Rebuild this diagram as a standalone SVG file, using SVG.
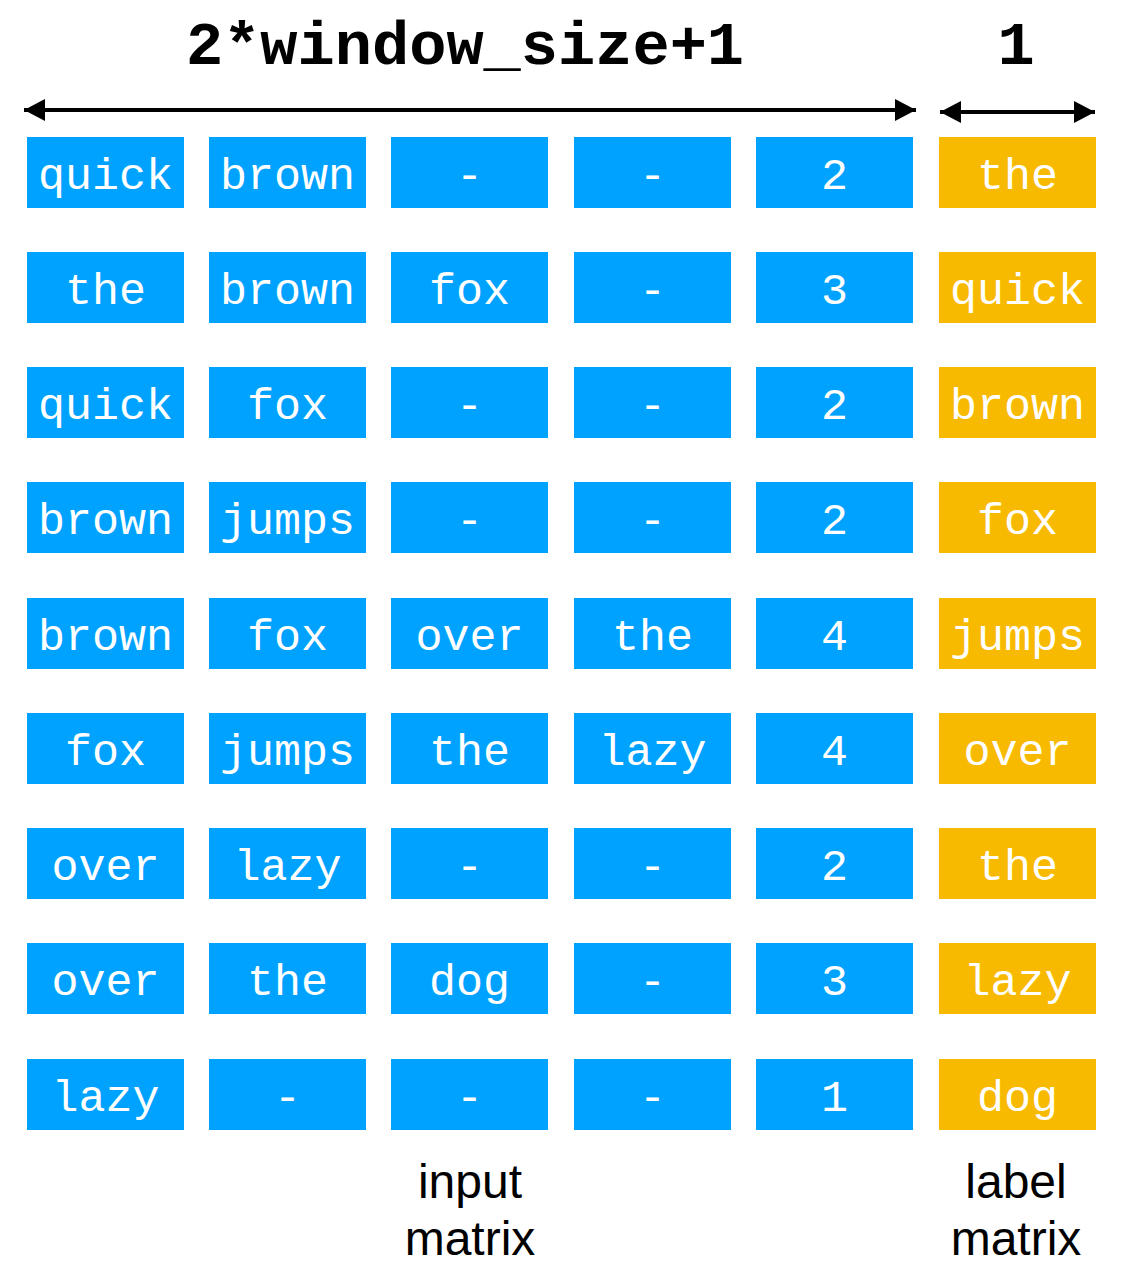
<svg xmlns="http://www.w3.org/2000/svg" width="1134" height="1285" viewBox="0 0 1134 1285">
<style>
.b{fill:#00A2FF}
.o{fill:#F8BA00}
.t{font-family:"Liberation Mono","Courier New",monospace;font-size:45px;fill:#ffffff;text-anchor:middle}
.h{font-family:"Liberation Mono","Courier New",monospace;font-size:62px;font-weight:bold;fill:#000;text-anchor:middle}
.l{font-family:"Liberation Sans",Arial,Helvetica,sans-serif;font-size:48px;fill:#000;text-anchor:middle}
.ar{stroke:#000;stroke-width:4;fill:none}
</style>
<defs>
<marker id="ah" markerWidth="21" markerHeight="22" viewBox="0 0 21 22" refX="21" refY="11" orient="auto-start-reverse" markerUnits="userSpaceOnUse">
<path d="M0,0 L21,11 L0,22 Z" fill="#000"/>
</marker>
</defs>
<g id="titles">
<text class="h" x="465" y="64">2*window_size+1</text>
<text class="h" x="1016" y="64">1</text>
</g>
<g id="connectors">
<line class="ar" x1="24" y1="110" x2="916" y2="110" marker-start="url(#ah)" marker-end="url(#ah)"/>
<line class="ar" x1="940" y1="112" x2="1095" y2="112" marker-start="url(#ah)" marker-end="url(#ah)"/>
</g>
<g id="row1">
<rect class="b" x="27" y="137" width="157" height="71"/><text class="t" x="105.5" y="189">quick</text>
<rect class="b" x="209" y="137" width="157" height="71"/><text class="t" x="287.5" y="189">brown</text>
<rect class="b" x="391" y="137" width="157" height="71"/><text class="t" x="469.5" y="189">-</text>
<rect class="b" x="574" y="137" width="157" height="71"/><text class="t" x="652.5" y="189">-</text>
<rect class="b" x="756" y="137" width="157" height="71"/><text class="t" x="834.5" y="189">2</text>
<rect class="o" x="939" y="137" width="157" height="71"/><text class="t" x="1017.5" y="189">the</text>
</g>
<g id="row2">
<rect class="b" x="27" y="252" width="157" height="71"/><text class="t" x="105.5" y="304">the</text>
<rect class="b" x="209" y="252" width="157" height="71"/><text class="t" x="287.5" y="304">brown</text>
<rect class="b" x="391" y="252" width="157" height="71"/><text class="t" x="469.5" y="304">fox</text>
<rect class="b" x="574" y="252" width="157" height="71"/><text class="t" x="652.5" y="304">-</text>
<rect class="b" x="756" y="252" width="157" height="71"/><text class="t" x="834.5" y="304">3</text>
<rect class="o" x="939" y="252" width="157" height="71"/><text class="t" x="1017.5" y="304">quick</text>
</g>
<g id="row3">
<rect class="b" x="27" y="367" width="157" height="71"/><text class="t" x="105.5" y="419">quick</text>
<rect class="b" x="209" y="367" width="157" height="71"/><text class="t" x="287.5" y="419">fox</text>
<rect class="b" x="391" y="367" width="157" height="71"/><text class="t" x="469.5" y="419">-</text>
<rect class="b" x="574" y="367" width="157" height="71"/><text class="t" x="652.5" y="419">-</text>
<rect class="b" x="756" y="367" width="157" height="71"/><text class="t" x="834.5" y="419">2</text>
<rect class="o" x="939" y="367" width="157" height="71"/><text class="t" x="1017.5" y="419">brown</text>
</g>
<g id="row4">
<rect class="b" x="27" y="482" width="157" height="71"/><text class="t" x="105.5" y="534">brown</text>
<rect class="b" x="209" y="482" width="157" height="71"/><text class="t" x="287.5" y="534">jumps</text>
<rect class="b" x="391" y="482" width="157" height="71"/><text class="t" x="469.5" y="534">-</text>
<rect class="b" x="574" y="482" width="157" height="71"/><text class="t" x="652.5" y="534">-</text>
<rect class="b" x="756" y="482" width="157" height="71"/><text class="t" x="834.5" y="534">2</text>
<rect class="o" x="939" y="482" width="157" height="71"/><text class="t" x="1017.5" y="534">fox</text>
</g>
<g id="row5">
<rect class="b" x="27" y="598" width="157" height="71"/><text class="t" x="105.5" y="650">brown</text>
<rect class="b" x="209" y="598" width="157" height="71"/><text class="t" x="287.5" y="650">fox</text>
<rect class="b" x="391" y="598" width="157" height="71"/><text class="t" x="469.5" y="650">over</text>
<rect class="b" x="574" y="598" width="157" height="71"/><text class="t" x="652.5" y="650">the</text>
<rect class="b" x="756" y="598" width="157" height="71"/><text class="t" x="834.5" y="650">4</text>
<rect class="o" x="939" y="598" width="157" height="71"/><text class="t" x="1017.5" y="650">jumps</text>
</g>
<g id="row6">
<rect class="b" x="27" y="713" width="157" height="71"/><text class="t" x="105.5" y="765">fox</text>
<rect class="b" x="209" y="713" width="157" height="71"/><text class="t" x="287.5" y="765">jumps</text>
<rect class="b" x="391" y="713" width="157" height="71"/><text class="t" x="469.5" y="765">the</text>
<rect class="b" x="574" y="713" width="157" height="71"/><text class="t" x="652.5" y="765">lazy</text>
<rect class="b" x="756" y="713" width="157" height="71"/><text class="t" x="834.5" y="765">4</text>
<rect class="o" x="939" y="713" width="157" height="71"/><text class="t" x="1017.5" y="765">over</text>
</g>
<g id="row7">
<rect class="b" x="27" y="828" width="157" height="71"/><text class="t" x="105.5" y="880">over</text>
<rect class="b" x="209" y="828" width="157" height="71"/><text class="t" x="287.5" y="880">lazy</text>
<rect class="b" x="391" y="828" width="157" height="71"/><text class="t" x="469.5" y="880">-</text>
<rect class="b" x="574" y="828" width="157" height="71"/><text class="t" x="652.5" y="880">-</text>
<rect class="b" x="756" y="828" width="157" height="71"/><text class="t" x="834.5" y="880">2</text>
<rect class="o" x="939" y="828" width="157" height="71"/><text class="t" x="1017.5" y="880">the</text>
</g>
<g id="row8">
<rect class="b" x="27" y="943" width="157" height="71"/><text class="t" x="105.5" y="995">over</text>
<rect class="b" x="209" y="943" width="157" height="71"/><text class="t" x="287.5" y="995">the</text>
<rect class="b" x="391" y="943" width="157" height="71"/><text class="t" x="469.5" y="995">dog</text>
<rect class="b" x="574" y="943" width="157" height="71"/><text class="t" x="652.5" y="995">-</text>
<rect class="b" x="756" y="943" width="157" height="71"/><text class="t" x="834.5" y="995">3</text>
<rect class="o" x="939" y="943" width="157" height="71"/><text class="t" x="1017.5" y="995">lazy</text>
</g>
<g id="row9">
<rect class="b" x="27" y="1059" width="157" height="71"/><text class="t" x="105.5" y="1111">lazy</text>
<rect class="b" x="209" y="1059" width="157" height="71"/><text class="t" x="287.5" y="1111">-</text>
<rect class="b" x="391" y="1059" width="157" height="71"/><text class="t" x="469.5" y="1111">-</text>
<rect class="b" x="574" y="1059" width="157" height="71"/><text class="t" x="652.5" y="1111">-</text>
<rect class="b" x="756" y="1059" width="157" height="71"/><text class="t" x="834.5" y="1111">1</text>
<rect class="o" x="939" y="1059" width="157" height="71"/><text class="t" x="1017.5" y="1111">dog</text>
</g>
<g id="labels">
<text class="l" x="470" y="1198">input</text>
<text class="l" x="470" y="1255">matrix</text>
<text class="l" x="1016" y="1198">label</text>
<text class="l" x="1016" y="1255">matrix</text>
</g>
</svg>
